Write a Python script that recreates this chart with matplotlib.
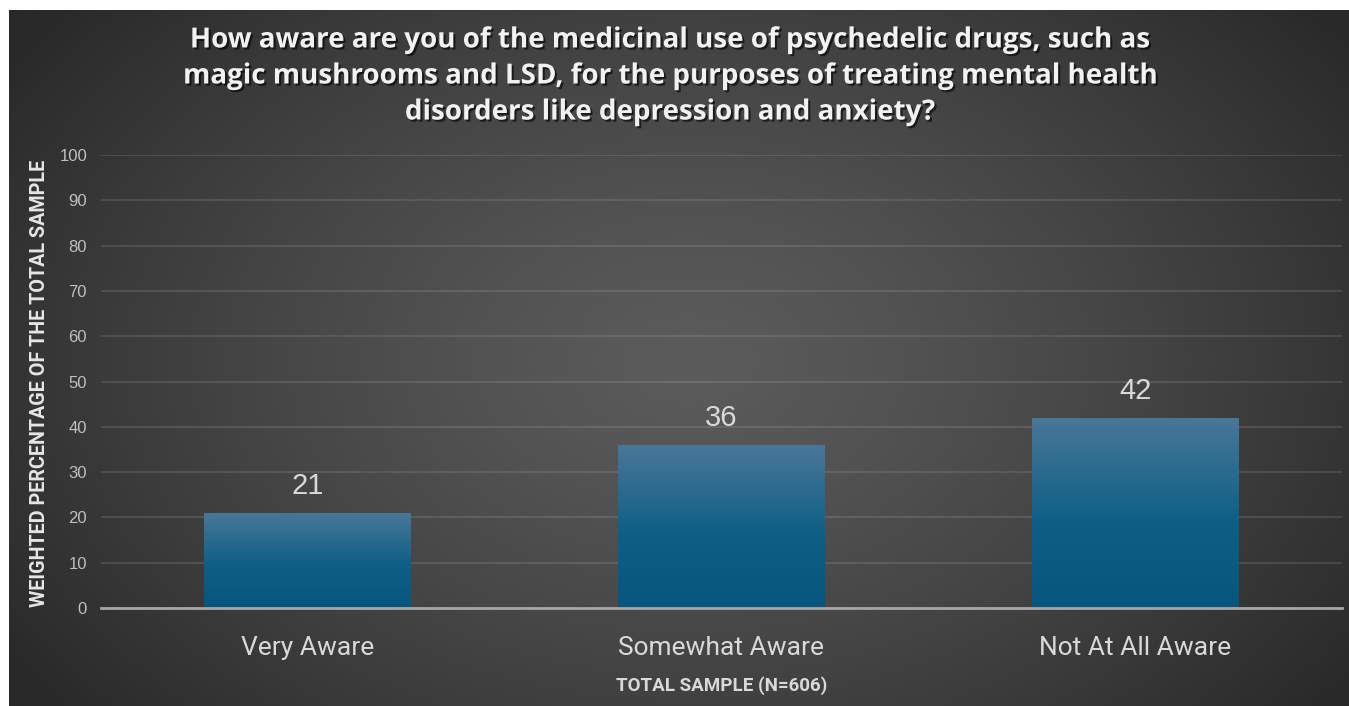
import numpy as np
import matplotlib
matplotlib.use("Agg")
import matplotlib.pyplot as plt
import matplotlib.patheffects as pe
from matplotlib.colors import LinearSegmentedColormap

categories = ["Very Aware", "Somewhat Aware", "Not At All Aware"]
values = [21, 36, 42]
yticks = [0, 10, 20, 30, 40, 50, 60, 70, 80, 90, 100]
title = ("How aware are you of the medicinal use of psychedelic drugs, such as\n"
         "magic mushrooms and LSD, for the purposes of treating mental health\n"
         "disorders like depression and anxiety?")
ylabel = "WEIGHTED PERCENTAGE OF THE TOTAL SAMPLE"
xlabel = "TOTAL SAMPLE (N=606)"

W, H = 1349, 706
fig = plt.figure(figsize=(W / 100, H / 100), dpi=100, facecolor="white")

# background radial gradient
bg = fig.add_axes([9 / W, 0, (W - 9) / W, (H - 10) / H], zorder=-10)
gx, gy = np.meshgrid(np.linspace(9, W, 400), np.linspace(10, H, 220))
cx, cy, rx, ry = 690, 360, 820, 560
d = np.sqrt(((gx - cx) / rx) ** 2 + ((gy - cy) / ry) ** 2)
d = np.clip(d, 0, 1)
c = (0x5b + (0x29 - 0x5b) * d ** 1.3) / 255
img = np.dstack([c, c, c])
bg.imshow(img, aspect="auto", extent=[0, 1, 0, 1], interpolation="bicubic")
bg.set_axis_off()

ax = fig.add_axes([101 / W, 98 / H, 1241 / W, 453 / H])
ax.set_facecolor("none")
x = np.arange(len(categories))
bars = ax.bar(x, values, width=0.5, color="#1a6488", zorder=3,
              path_effects=[pe.withSimplePatchShadow(offset=(0, 0), shadow_rgbFace="black", alpha=0.35)])

cmap = LinearSegmentedColormap.from_list("bar", [(0, "#06557d"), (0.45, "#0e5f86"), (1, "#4a7798")])
grad = np.linspace(0, 1, 256).reshape(-1, 1)
for b in bars:
    x0, w, h = b.get_x(), b.get_width(), b.get_height()
    im = ax.imshow(grad, cmap=cmap, origin="lower", aspect="auto",
                   extent=[x0, x0 + w, 0, h], zorder=4)
    im.set_clip_path(b)

for xi, v in zip(x, values):
    ax.annotate(str(v), (xi, v), xytext=(0, 9), textcoords="offset points",
                ha="center", va="bottom", fontsize=21, color="#d9d9d9",
                family=["Liberation Sans", "DejaVu Sans"], zorder=5)

ax.set_xlim(-0.5, len(categories) - 0.5)
ax.set_ylim(0, 100)
ax.set_yticks(yticks)
ax.set_yticklabels([str(t) for t in yticks], fontsize=12, color="#bfbfbf",
                   family=["Liberation Sans", "DejaVu Sans"])
ax.set_xticks(x)
ax.set_xticklabels(categories, fontsize=19, color="#d9d9d9", family=["Roboto", "DejaVu Sans"])
ax.tick_params(axis="y", length=0, pad=10)
ax.tick_params(axis="x", length=0, pad=20)
ax.grid(axis="y", color="#ffffff", alpha=0.13, linewidth=1.2, zorder=0)
for s in ["top", "right", "left"]:
    ax.spines[s].set_visible(False)
ax.spines["bottom"].set_color("#a6a6a6")
ax.spines["bottom"].set_linewidth(2)
ax.spines["bottom"].set_zorder(6)

fig.text(670 / W, 1 - 76 / H, title, ha="center", va="center", multialignment="center",
         fontsize=20, fontweight="bold", color="#f2f2f2", linespacing=1.32,
         family=["Open Sans", "DejaVu Sans"],
         path_effects=[pe.withSimplePatchShadow(offset=(1.5, -1.5), shadow_rgbFace="black", alpha=0.6)])

fig.text(40 / W, 1 - 383 / H, ylabel, rotation=90, ha="center", va="center",
         fontsize=14.2, fontweight="bold", color="#e6e6e6",
         family=["Roboto", "DejaVu Sans"])
fig.text(722 / W, 1 - 686 / H, xlabel, ha="center", va="center",
         fontsize=13.5, fontweight="bold", color="#d9d9d9",
         family=["Roboto", "DejaVu Sans"])

fig.savefig("out.png", dpi=100, facecolor="white")
